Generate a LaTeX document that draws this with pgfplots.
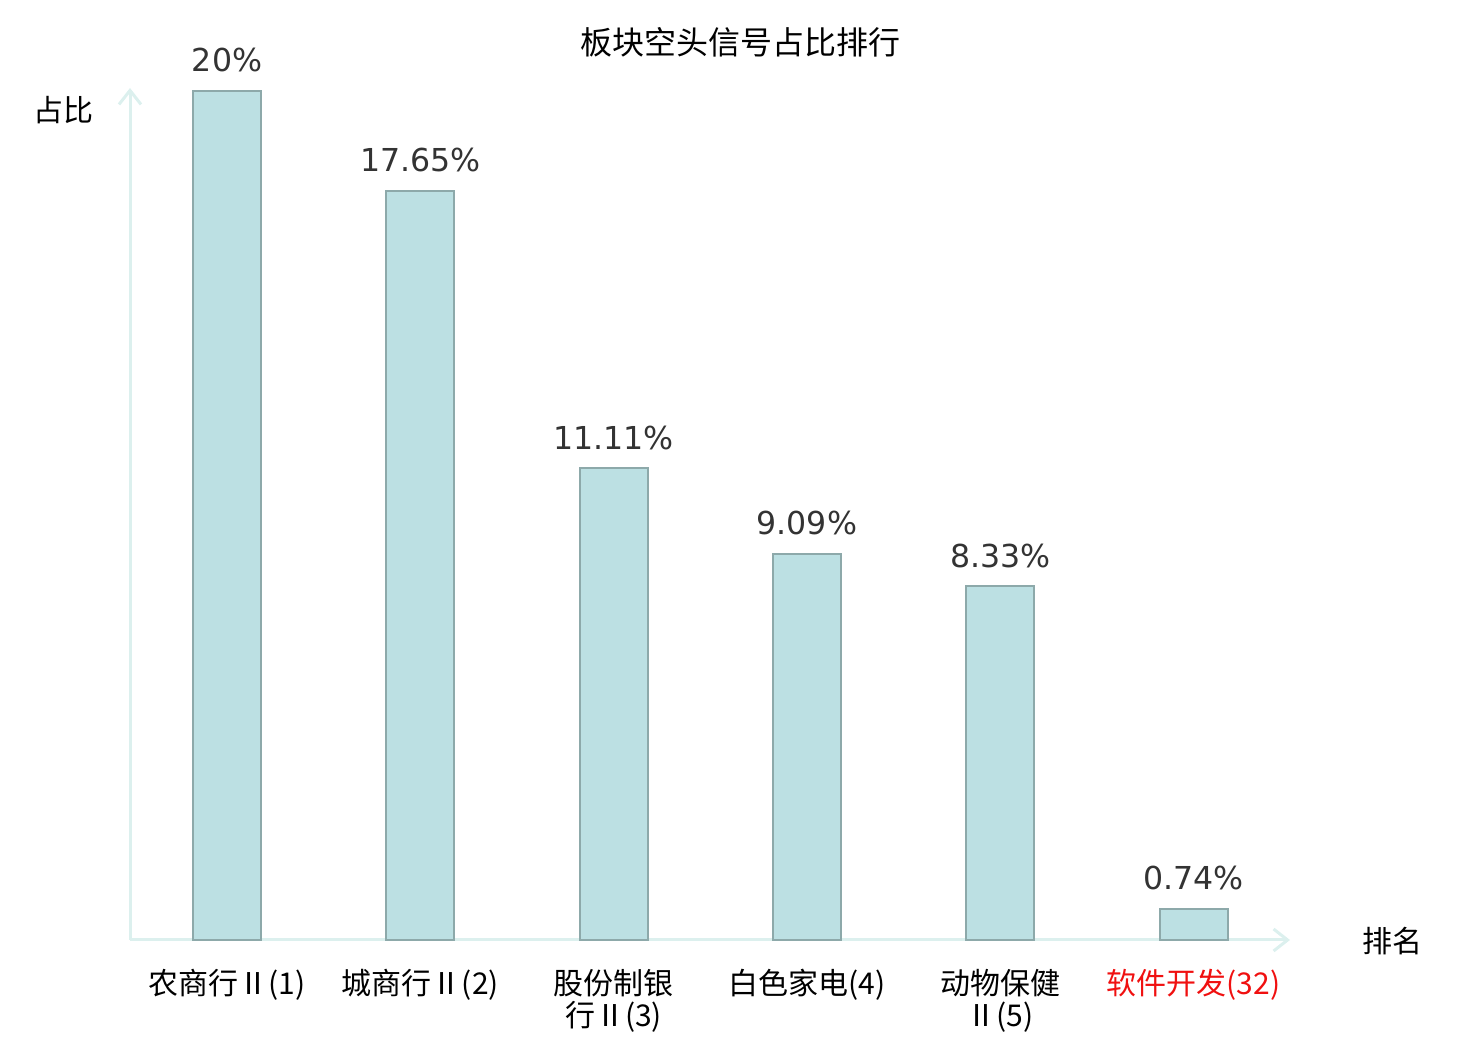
\documentclass[border=0pt]{standalone}
\usepackage{pgfplots}
\pgfplotsset{compat=1.18}
\usepackage{fontspec}
\setmainfont{DejaVu Sans}
\newfontfamily\cjk{Noto Sans CJK SC}
\usetikzlibrary{arrows.meta}
\definecolor{barfill}{HTML}{BCE0E3}
\definecolor{baredge}{HTML}{8DA9AA}
\definecolor{axcol}{HTML}{DCF0EE}
\definecolor{valcol}{HTML}{333333}
\definecolor{redlab}{HTML}{F01010}
\begin{document}
\begin{tikzpicture}
\path[use as bounding box] (0pt,0pt) rectangle (740pt,520pt);
\begin{axis}[
  at={(65pt,50pt)}, anchor=south west,
  scale only axis, width=580pt, height=426pt,
  xmin=-0.502, xmax=5.499, ymin=0, ymax=20.07,
  axis lines=left,
  axis line style={draw=axcol, line width=1.5pt, -{Straight Barb[length=7pt,width=11pt,line width=1.5pt]}},
  ytick=\empty,
  xtick={0,1,2,3,4,5},
  xticklabels={{农商行Ⅱ(1)},{城商行Ⅱ(2)},{股份制银\\行Ⅱ(3)},{白色家电(4)},{动物保健\\Ⅱ(5)},{\color{redlab}软件开发(32)}},
  major tick length=0pt,
  xticklabel style={align=center, font=\cjk\fontsize{15}{16}\selectfont, text=black, yshift=-11pt},
  ybar, bar width=34pt,
  nodes near coords,
  point meta=explicit symbolic,
  every node near coord/.append style={font=\fontsize{15.8}{18}\selectfont, text=valcol, yshift=5.5pt},
  clip=false,
]
\addplot[fill=barfill, draw=baredge, line width=1pt] coordinates {
  (0,20) [20\%]
  (1,17.65) [17.65\%]
  (2,11.11) [11.11\%]
  (3,9.09) [9.09\%]
  (4,8.33) [8.33\%]
  (5,0.74) [0.74\%]
};
\end{axis}
\node[font=\cjk\fontsize{16}{17}\selectfont] at (370pt,499pt) {板块空头信号占比排行};
\node[font=\cjk\fontsize{15}{16}\selectfont] at (31.5pt,465pt) {占比};
\node[font=\cjk\fontsize{15}{16}\selectfont] at (696pt,49.5pt) {排名};
\end{tikzpicture}
\end{document}
